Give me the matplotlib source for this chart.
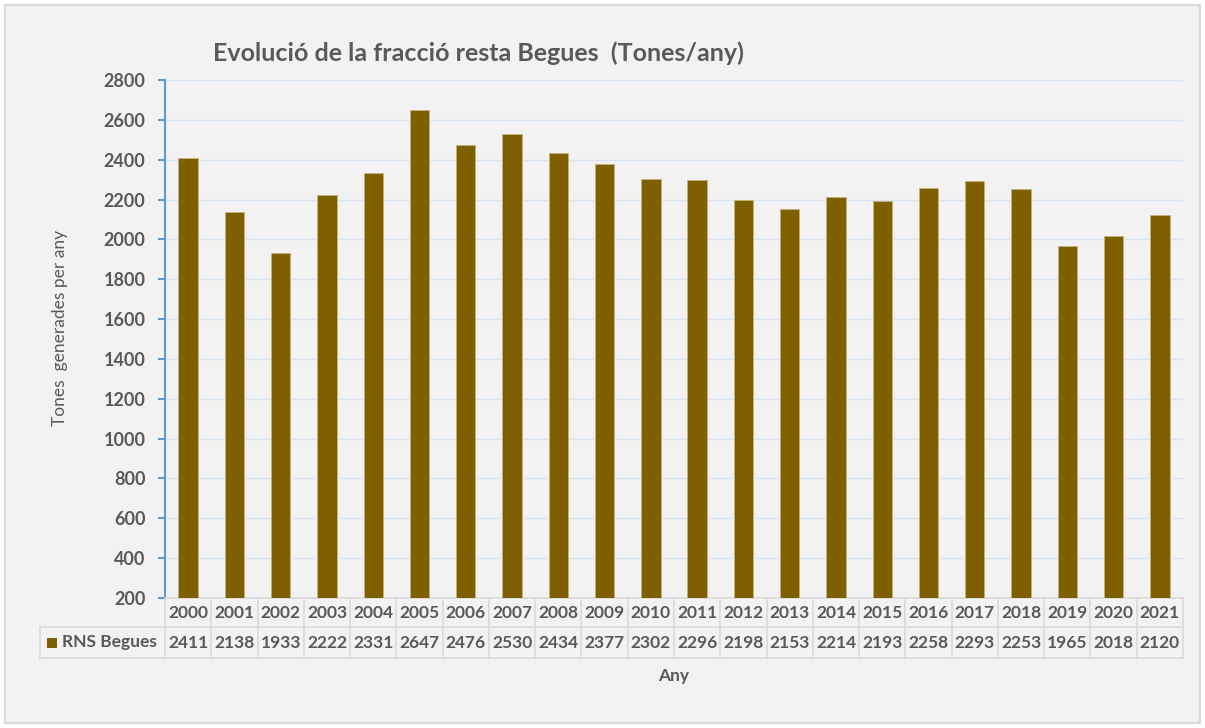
import matplotlib
matplotlib.use('Agg')
import matplotlib.pyplot as plt
from matplotlib.patches import Rectangle
import matplotlib.transforms as mtransforms
import numpy as np

# dades
anys = ['2000', '2001', '2002', '2003', '2004', '2005', '2006', '2007', '2008', '2009', '2010',
        '2011', '2012', '2013', '2014', '2015', '2016', '2017', '2018', '2019', '2020', '2021']
tones = [2411, 2138, 1933, 2222, 2331, 2647, 2476, 2530, 2434, 2377, 2302,
         2296, 2198, 2153, 2214, 2193, 2258, 2293, 2253, 1965, 2018, 2120]
serie = 'RNS Begues'
y_ticks = list(range(200, 2801, 200))

plt.rcParams['font.family'] = ['Lato', 'DejaVu Sans']
text_col = '#595959'
bar_col = '#7f6000'
grid_col = '#d9d9d9'

W, H = 1205, 728
fig = plt.figure(figsize=(W / 100, H / 100), dpi=100)
fig.patch.set_facecolor('white')
# fons gris amb vora
fig.patches.append(Rectangle((5 / W, 5 / H), 1 - 10 / W, 1 - 10 / H, transform=fig.transFigure,
                             facecolor='#f2f2f2', edgecolor=grid_col, linewidth=1.5, zorder=-1))

left, right, top, bottom = 165, 1183, 80, 598
ax = fig.add_axes([left / W, 1 - bottom / H, (right - left) / W, (bottom - top) / H])
ax.set_facecolor('none')

x = np.arange(len(anys))
ax.bar(x, [t - 200 for t in tones], bottom=200, width=0.42, color=bar_col,
       edgecolor='#c9b27a', linewidth=0.6, zorder=3)

ax.set_xlim(-0.5, len(anys) - 0.5)
ax.set_ylim(200, 2800)
ax.set_yticks(y_ticks)
ax.set_yticklabels([str(v) for v in y_ticks], fontsize=13, fontweight='bold', color=text_col)
ax.set_xticks([])
ax.yaxis.grid(True, color='#d6e4f3', linewidth=1, zorder=0)
for s in ['top', 'right']:
    ax.spines[s].set_visible(False)
ax.spines['left'].set_color('#5b9bd5')
ax.spines['left'].set_linewidth(1.5)
ax.spines['bottom'].set_color(grid_col)
ax.spines['bottom'].set_linewidth(1.2)
ax.tick_params(axis='y', length=5, color='#5b9bd5', width=1.5, pad=9)

# taula de dades sota l'eix
px = 1.0 / (bottom - top)  # un pixel en coordenades d'eix
row1 = -29 * px
row2 = -60 * px
trans = mtransforms.blended_transform_factory(ax.transData, ax.transAxes)
for i in range(len(anys) + 1):
    ax.plot([i - 0.5, i - 0.5], [0, row2], transform=trans, color=grid_col, lw=1.2, clip_on=False)
left_ax = (40 - left) / (right - left)
for yy in [row1, row2]:
    ax.plot([left_ax, 1], [yy, yy], transform=ax.transAxes, color=grid_col, lw=1.2, clip_on=False)
ax.plot([left_ax, left_ax], [row1, row2], transform=ax.transAxes, color=grid_col, lw=1.2, clip_on=False)
for i, (a, t) in enumerate(zip(anys, tones)):
    ax.text(i, row1 / 2, a, transform=trans, ha='center', va='center', fontsize=12.5,
            fontweight='bold', color=text_col)
    ax.text(i, (row1 + row2) / 2, str(t), transform=trans, ha='center', va='center', fontsize=12.5,
            fontweight='bold', color=text_col)
# clau de la llegenda
key_x = (47 - left) / (right - left)
ax.add_patch(Rectangle((key_x, (row1 + row2) / 2 - 5 * px), 10 / (right - left), 10 * px,
                       transform=ax.transAxes, facecolor=bar_col, edgecolor='none', clip_on=False))
ax.text((62 - left) / (right - left), (row1 + row2) / 2, serie, transform=ax.transAxes,
        ha='left', va='center', fontsize=12.5, fontweight='bold', color=text_col)

fig.text(213 / W, 1 - 53 / H, 'Evolució de la fracció resta Begues  (Tones/any)', ha='left',
         va='center', fontsize=18, fontweight='bold', color=text_col)
fig.text(674 / W, 1 - 676 / H, 'Any', ha='center', va='center', fontsize=12.5,
         fontweight='bold', color=text_col)
fig.text(60 / W, 1 - 328 / H, 'Tones  generades per any', ha='center', va='center', rotation=90,
         fontsize=12.5, color=text_col)

plt.savefig('out.png', dpi=100)
